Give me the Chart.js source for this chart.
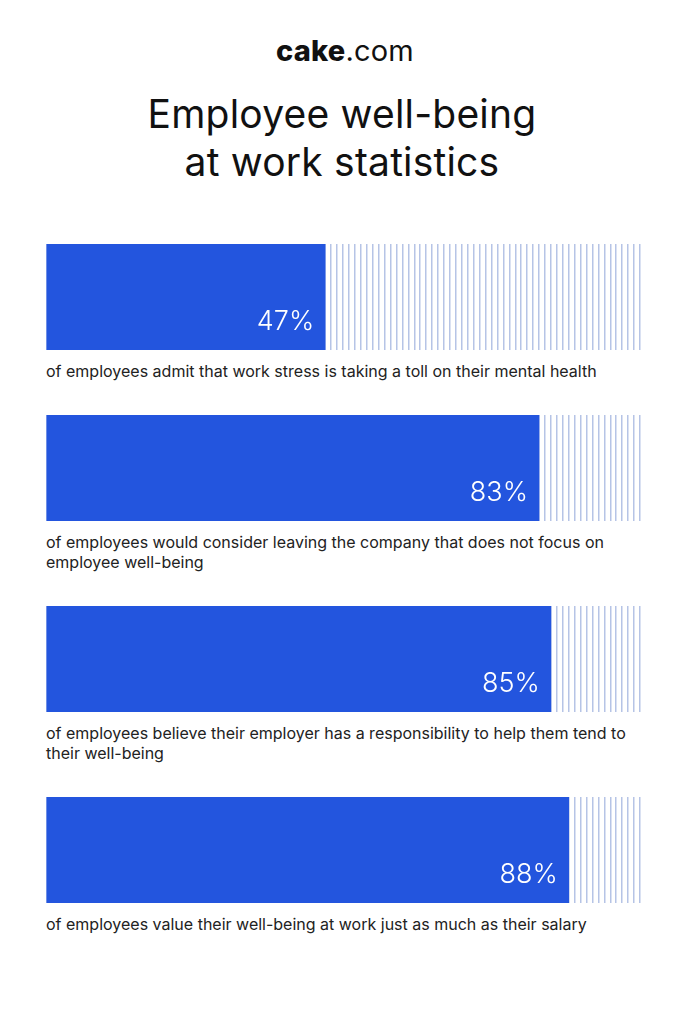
<html><head>
<title>Employee well-being at work statistics</title>
<script src="https://cdn.jsdelivr.net/npm/chart.js"></script>
<style>
  body {
    margin: 0;
    background-color: #ffffff;
    font-family: Inter, "Noto Sans", Arial, sans-serif;
    color: #1a1a1a;
  }
  .page {
    position: relative;
    width: 684px;
    height: 1024px;
    overflow: hidden;
  }
  .brand {
    position: absolute;
    top: 36px;
    left: 3px;
    width: 684px;
    text-align: center;
    font-size: 29px;
    line-height: 30px;
    letter-spacing: 0.2px;
    color: #111;
  }
  .brand b { font-weight: 800; }
  .title {
    position: absolute;
    top: 90px;
    left: 0;
    width: 684px;
    text-align: center;
    font-size: 39px;
    line-height: 48px;
    font-weight: 400;
    letter-spacing: 0.2px;
    color: #111;
  }
  .rows {
    position: absolute;
    top: 244px;
    left: 46px;
  }
  .row { margin-bottom: 34px; }
  .row canvas { display: block; }
  .caption {
    margin-top: 11px;
    font-size: 16px;
    line-height: 20px;
    color: #222;
    white-space: pre-line;
  }
</style>
</head>
<body>
<div class="page">
  <div class="brand"><b>cake</b>.com</div>
  <div class="title">Employee well-being<br>at work statistics</div>
  <div class="rows" id="rows"></div>
</div>

<script>
const values = [47, 83, 85, 88];
const valueLabels = ['47%', '83%', '85%', '88%'];
const captions = [
  'of employees admit that work stress is taking a toll on their mental health',
  'of employees would consider leaving the company that does not focus on\nemployee well-being',
  'of employees believe their employer has a responsibility to help them tend to\ntheir well-being',
  'of employees value their well-being at work just as much as their salary'
];

const BAR_BLUE = '#2355de';
const STRIPE = '#b6c4e6';

// white percentage text inside the end of each bar
const valueLabelPlugin = {
  id: 'valueLabel',
  afterDatasetsDraw(chart, args, opts) {
    const bar = chart.getDatasetMeta(0).data[0];
    const ctx = chart.ctx;
    ctx.save();
    ctx.font = '300 27px Inter, "Noto Sans", sans-serif';
    ctx.fillStyle = '#ffffff';
    ctx.textAlign = 'right';
    ctx.textBaseline = 'alphabetic';
    ctx.fillText(opts.text, bar.x - 11, chart.chartArea.bottom - 20);
    ctx.restore();
  }
};

function makeRow(i) {
  const row = document.createElement('div');
  row.className = 'row';
  const canvas = document.createElement('canvas');
  canvas.width = 596;
  canvas.height = 106;
  canvas.style.width = '596px';
  canvas.style.height = '106px';
  row.appendChild(canvas);
  const cap = document.createElement('div');
  cap.className = 'caption';
  cap.textContent = captions[i];
  row.appendChild(cap);
  document.getElementById('rows').appendChild(row);

  new Chart(canvas, {
    type: 'bar',
    data: {
      labels: [valueLabels[i]],
      datasets: [{
        data: [values[i]],
        backgroundColor: BAR_BLUE,
        borderWidth: 0,
        barPercentage: 1,
        categoryPercentage: 1
      }]
    },
    options: {
      indexAxis: 'y',
      responsive: false,
      animation: false,
      layout: { padding: { left: 0, right: 2, top: 0, bottom: 0 } },
      plugins: {
        legend: { display: false },
        tooltip: { enabled: false },
        valueLabel: { text: valueLabels[i] }
      },
      scales: {
        x: {
          min: 0,
          max: 100,
          ticks: { display: false, stepSize: 1 },
          grid: { color: STRIPE, lineWidth: 1.5, drawTicks: false },
          border: { display: false }
        },
        y: { display: false }
      }
    },
    plugins: [valueLabelPlugin]
  });
}

values.forEach((v, i) => makeRow(i));
</script>
</body></html>
